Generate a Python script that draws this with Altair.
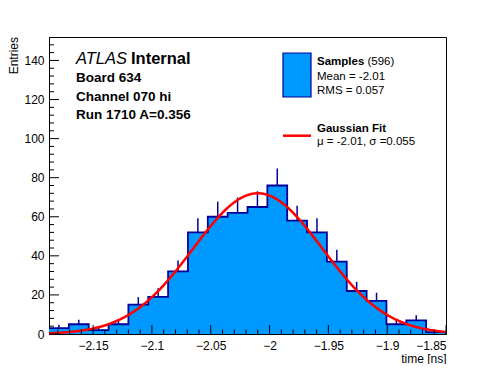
import altair as alt
import pandas as pd

# ---- data ----
counts = [3, 5, 2, 5, 15, 19, 32, 52, 60, 62, 65, 76, 58, 52, 37, 22, 17, 5, 7, 1]
x_lo, x_hi = -2.1875, -1.85
n_bins = 20
y_max = 152
fit_mu, fit_sigma, fit_amp = -2.01, 0.055, 72
x_major = [-2.15, -2.1, -2.05, -2.0, -1.95, -1.9, -1.85]
y_major = [0, 20, 40, 60, 80, 100, 120, 140]
x_minor = [v for v in [round(-2.18 + 0.01 * i, 2) for i in range(33)]
           if all(abs(v - m) > 1e-6 for m in x_major)]
y_minor = [v for v in range(0, 152, 4) if v % 20 != 0]

W, H = 397, 297
FONT = "Liberation Sans"
BLUE = "#0099FF"
NAVY = "#000099"
RED = "#FF0000"

bw = (x_hi - x_lo) / n_bins
edges = [x_lo + i * bw for i in range(n_bins + 1)]
step_df = pd.DataFrame({"x": edges, "y": counts + [counts[-1]]})
bins_df = pd.DataFrame({"xc": [x_lo + (i + 0.5) * bw for i in range(n_bins)], "count": counts})

xs = alt.Scale(domain=[x_lo, x_hi], nice=False, zero=False)
ys = alt.Scale(domain=[0, y_max], nice=False)

axX = alt.Axis(title="time [ns]", values=x_major, format=".3~f", titleAnchor="end",
               labelPadding=6, titlePadding=2, ticks=False, grid=False)
axY = alt.Axis(title=None, values=y_major, format="d",
               labelPadding=5, ticks=False, grid=False)


def X(field):
    return alt.X(field, scale=xs, axis=axX)


def Y(field):
    return alt.Y(field, scale=ys, axis=axY)


fill = alt.Chart(step_df).mark_area(interpolate="step-after", color=BLUE, opacity=1).encode(
    x=X("x:Q"), y=Y("y:Q"))

outline = alt.Chart(step_df).mark_line(interpolate="step-after", color=NAVY, strokeWidth=1.8).encode(
    x=X("x:Q"), y=Y("y:Q"))

errs = alt.Chart(bins_df).transform_calculate(
    top="datum.count + sqrt(datum.count)"
).mark_rule(color=NAVY, strokeWidth=1.5).encode(
    x=X("xc:Q"), y=Y("count:Q"), y2="top:Q")

fit = alt.Chart(alt.sequence(x_lo, x_hi + 0.0005, 0.001, as_="x")).transform_calculate(
    y=f"{fit_amp} * exp(-0.5 * pow((datum.x - ({fit_mu})) / {fit_sigma}, 2))"
).mark_line(color=RED, strokeWidth=2.5).encode(x=X("x:Q"), y=Y("y:Q"))


def xticks(vals, length):
    return alt.Chart(pd.DataFrame({"v": vals})).mark_rule(color="black", strokeWidth=1).encode(
        x=X("v:Q"), y=alt.value(H), y2=alt.value(H - length))


def yticks(vals, length):
    return alt.Chart(pd.DataFrame({"v": vals})).mark_rule(color="black", strokeWidth=1).encode(
        y=Y("v:Q"), x=alt.value(0), x2=alt.value(length))


one = pd.DataFrame({"a": [0]})


def txt(s, x, y, size, weight="normal", style="normal"):
    return alt.Chart(one).mark_text(
        text=s, align="left", baseline="alphabetic", font=FONT, fontSize=size,
        fontWeight=weight, fontStyle=style, color="black"
    ).encode(x=alt.value(x), y=alt.value(y))


def mtxt(s, x, y, size, weight="normal"):
    return alt.Chart(one).mark_text(
        text=s, align="left", baseline="middle", font=FONT, fontSize=size,
        fontWeight=weight, color="black"
    ).encode(x=alt.value(x), y=alt.value(y))


entries = alt.Chart(one).mark_text(
    text="Entries", align="right", baseline="middle", angle=270, font=FONT,
    fontSize=12, color="black"
).encode(x=alt.value(-35), y=alt.value(0))

legend_box = alt.Chart(one).mark_rect(fill=BLUE, stroke=NAVY, strokeWidth=1.2).encode(
    x=alt.value(234), x2=alt.value(262), y=alt.value(16), y2=alt.value(60))
legend_line = alt.Chart(one).mark_rule(color=RED, strokeWidth=2.5).encode(
    x=alt.value(234), x2=alt.value(262), y=alt.value(98.7))

texts = [
    txt("ATLAS", 27, 27, 16.5, style="italic"),
    txt("Internal", 82, 27, 16.5, weight="bold"),
    txt("Board 634", 27, 45, 13.5, weight="bold"),
    txt("Channel 070 hi", 27, 64, 13.5, weight="bold"),
    txt("Run 1710 A=0.356", 27, 82, 13.5, weight="bold"),
    mtxt("Samples", 268, 24.5, 11.5, weight="bold"),
    mtxt("(596)", 318.5, 24.5, 11.5),
    mtxt("Mean = -2.01", 268, 40, 11.5),
    mtxt("RMS = 0.057", 268, 53.5, 11.5),
    mtxt("Gaussian Fit", 268, 91.5, 11.5, weight="bold"),
    mtxt("\u03bc = -2.01, \u03c3 =0.055", 268, 104.5, 11.5),
]

chart = alt.layer(
    fill, errs, outline, fit,
    xticks(x_major, 9), xticks(x_minor, 4.5),
    yticks(y_major, 10), yticks(y_minor, 5),
    legend_box, legend_line, entries, *texts,
).properties(
    width=W, height=H,
    autosize=alt.AutoSizeParams(type="none"),
    padding={"left": 41, "top": 29, "right": 40, "bottom": 30},
).configure(
    background="white", font=FONT
).configure_view(
    stroke="black", strokeWidth=1
).configure_axis(
    domainColor="black", domainWidth=1, labelColor="black", titleColor="black",
    grid=False, labelFont=FONT, titleFont=FONT, labelFontSize=12, titleFontSize=12,
    titleFontWeight="normal",
)

chart.save("out.html", embed_options={"renderer": "svg", "actions": False})
